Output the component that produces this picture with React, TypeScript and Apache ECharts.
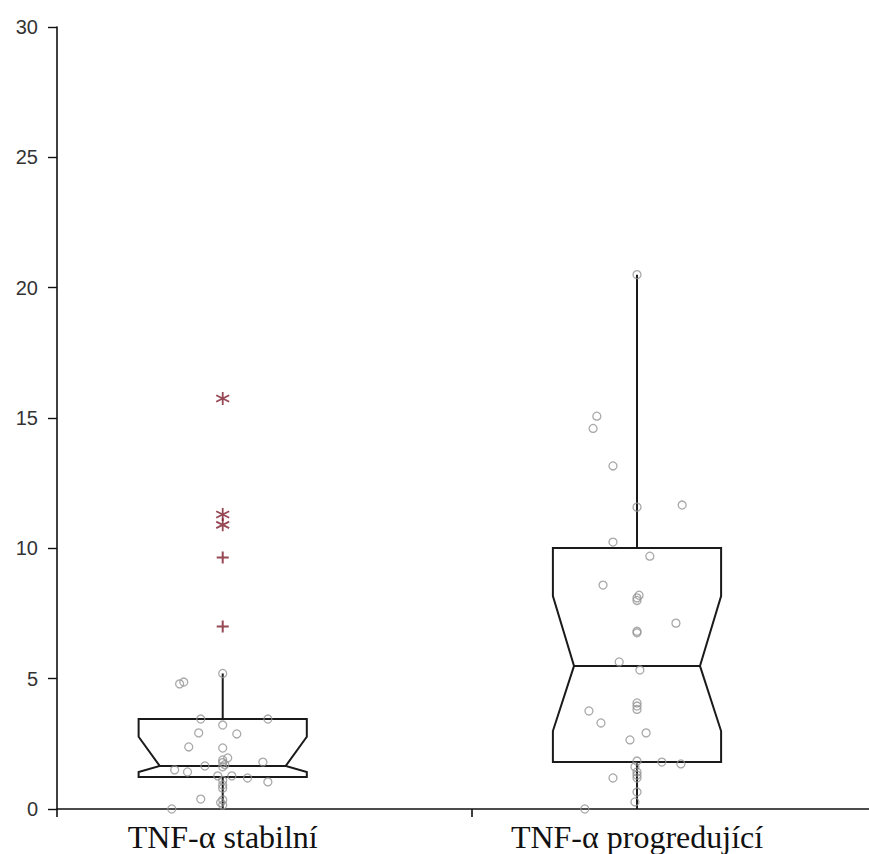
import React, { useEffect, useRef } from "react";
import * as echarts from "echarts";

// ---- data ----
const categories = ["TNF-\u03b1 stabiln\u00ed", "TNF-\u03b1 progreduj\u00edc\u00ed"];
const yTicks = [0, 5, 10, 15, 20, 25, 30];

// box stats: [category position, whiskerLow, q1, notchLow, median, notchHigh, q3, whiskerHigh]
const boxStable = [1, 0, 1.23, 1.42, 1.65, 2.77, 3.45, 5.2];
const boxProgressive = [2, 0, 1.8, 2.99, 5.49, 8.17, 10.01, 20.5];

// individual observations (values) and horizontal jitter (in category units)
const stableValues = [5.2, 4.8, 4.87, 3.45, 3.45, 3.22, 2.92, 2.88, 2.38, 2.34, 1.96, 1.88, 1.78, 1.7, 1.62, 1.8, 1.65, 1.5, 1.42, 1.27, 1.27, 1.19, 1.04, 1.1, 0.92, 0.8, 0.38, 0.35, 0.25, 0.15, 0.0];
const stableJitter = [0, -0.104, -0.094, -0.053, 0.109, 0, -0.058, 0.034, -0.082, 0, 0.012, 0, 0, 0.005, 0, 0.097, -0.043, -0.116, -0.085, -0.012, 0.022, 0.06, 0.109, 0, 0, 0, -0.053, 0, -0.005, 0, -0.123];

const progValues = [20.5, 15.07, 14.6, 13.16, 11.58, 11.66, 10.24, 9.7, 8.59, 8.2, 8.1, 8.0, 7.13, 6.82, 6.76, 5.64, 5.33, 4.07, 3.95, 3.82, 3.76, 3.3, 2.92, 2.65, 1.84, 1.8, 1.73, 1.62, 1.42, 1.3, 1.19, 1.19, 0.65, 0.27, 0.0];
const progJitter = [0, -0.097, -0.106, -0.058, 0, 0.109, -0.058, 0.031, -0.082, 0.005, 0, 0, 0.094, 0, 0, -0.043, 0.007, 0, 0, 0, -0.116, -0.087, 0.022, -0.017, 0, 0.06, 0.106, -0.005, 0, 0, 0, -0.058, 0, -0.005, -0.126];

// outliers of the stable group
const extremeValues = [15.75, 11.3, 10.9];
const outlierValues = [9.65, 7.0];

const BOX_HALF = 0.203;
const NOTCH_INSET = 0.051;

export default function App() {
  const ref = useRef<HTMLDivElement>(null);
  useEffect(() => {
    if (!ref.current) return;
    const chart = echarts.init(ref.current, null, { renderer: "svg" });

    const renderBox = (params: any, api: any) => {
      const x = api.value(0);
      const wl = api.value(1), q1 = api.value(2), nl = api.value(3), med = api.value(4), nh = api.value(5), q3 = api.value(6), wh = api.value(7);
      const L = x - BOX_HALF, R = x + BOX_HALF;
      const pts = [
        [L, q3], [R, q3], [R, nh], [R - NOTCH_INSET, med], [R, nl], [R, q1],
        [L, q1], [L, nl], [L + NOTCH_INSET, med], [L, nh],
      ].map((p) => api.coord(p));
      const lineStyle = { stroke: "#1a1a1a", lineWidth: 2, fill: null };
      return {
        type: "group",
        children: [
          { type: "polygon", shape: { points: pts }, style: { stroke: "#1a1a1a", lineWidth: 2, fill: "none" } },
          { type: "line", shape: { x1: api.coord([L + NOTCH_INSET, med])[0], y1: api.coord([0, med])[1], x2: api.coord([R - NOTCH_INSET, med])[0], y2: api.coord([0, med])[1] }, style: lineStyle },
          { type: "line", shape: { x1: api.coord([x, q3])[0], y1: api.coord([x, q3])[1], x2: api.coord([x, wh])[0], y2: api.coord([x, wh])[1] }, style: lineStyle },
          { type: "line", shape: { x1: api.coord([x, q1])[0], y1: api.coord([x, q1])[1], x2: api.coord([x, wl])[0], y2: api.coord([x, wl])[1] }, style: lineStyle },
        ],
      };
    };

    const pointStyle = { color: "rgba(0,0,0,0)", borderColor: "#939393", borderWidth: 1.3 };

    chart.setOption({
      animation: false,
      grid: { left: 57, right: 0, top: 27, bottom: 45, containLabel: false },
      xAxis: {
        type: "value",
        min: 0.6,
        max: 2.56,
        splitLine: { show: false },
        axisLine: { show: true, lineStyle: { color: "#111", width: 1.6 } },
        axisTick: { show: true, customValues: [0.6, 1.6], length: 8, lineStyle: { color: "#111", width: 1.6 } },
        axisLabel: {
          show: true,
          customValues: [1, 2],
          formatter: (v: number) => categories[Math.round(v) - 1] ?? "",
          fontFamily: "Liberation Serif",
          fontSize: 32,
          color: "#111",
          margin: 12,
        },
      },
      yAxis: {
        type: "value",
        min: 0,
        max: 30,
        interval: 5,
        splitLine: { show: false },
        axisLine: { show: true, lineStyle: { color: "#111", width: 1.6 } },
        axisTick: { show: true, length: 9, lineStyle: { color: "#111", width: 1.4 } },
        axisLabel: {
          formatter: (v: number) => (yTicks.includes(v) ? String(v) : ""),
          fontFamily: "Liberation Sans",
          fontSize: 20,
          color: "#333",
          margin: 19,
        },
      },
      series: [
        {
          type: "custom",
          renderItem: renderBox,
          data: [boxStable, boxProgressive],
          encode: { x: 0, y: [1, 2, 3, 4, 5, 6, 7] },
          z: 2,
        },
        {
          type: "scatter",
          symbol: "circle",
          symbolSize: 8,
          itemStyle: pointStyle,
          data: stableValues.map((v, i) => [1 + stableJitter[i], v]),
          z: 3,
        },
        {
          type: "scatter",
          symbol: "circle",
          symbolSize: 8,
          itemStyle: pointStyle,
          data: progValues.map((v, i) => [2 + progJitter[i], v]),
          z: 3,
        },
        {
          type: "scatter",
          symbol: "path://M0,-1L0,1M-0.87,-0.5L0.87,0.5M-0.87,0.5L0.87,-0.5",
          symbolSize: 13,
          itemStyle: { color: "none", borderColor: "#7d1a2a", borderWidth: 1.8 },
          data: extremeValues.map((v) => [1, v]),
          z: 4,
        },
        {
          type: "scatter",
          symbol: "path://M-1,0L1,0M0,-1L0,1",
          symbolSize: 12,
          itemStyle: { color: "none", borderColor: "#7d1a2a", borderWidth: 2 },
          data: outlierValues.map((v) => [1, v]),
          z: 4,
        },
      ],
    });
    return () => chart.dispose();
  }, []);
  return (
    <div
      ref={ref}
      style={{ position: "fixed", left: 0, top: 0, width: 869, height: 854, background: "#fff" }}
    />
  );
}
